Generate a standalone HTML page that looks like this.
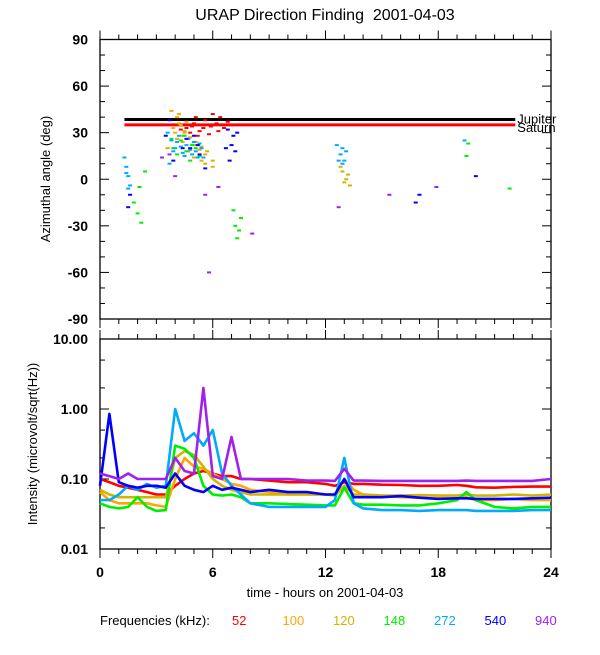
<!DOCTYPE html>
<html><head><meta charset="utf-8">
<style>
html,body{margin:0;padding:0;background:#fff;}
svg text{font-family:"Liberation Sans",sans-serif;}
</style></head>
<body>
<svg id="chart" width="600" height="650" viewBox="0 0 600 650" xmlns="http://www.w3.org/2000/svg">
<text x="325" y="20" font-size="16" text-anchor="middle">URAP Direction Finding &#160;2001-04-03</text>
<g id="topG"></g>
<g id="botG"></g>
<text x="325" y="597" font-size="13" text-anchor="middle">time - hours on 2001-04-03</text>
<text transform="translate(50,179) rotate(-90)" font-size="13" text-anchor="middle">Azimuthal angle (deg)</text>
<text transform="translate(37,444) rotate(-90)" font-size="13" text-anchor="middle">Intensity (microvolt/sqrt(Hz))</text>
<g id="legendG"></g>
</svg>
<script>
const freqs=["52","100","120","148","272","540","940"];
const colors=["#ff0000","#ffa500","#d2b400","#00ee00","#00aaff","#0000ff","#a020f0"];
const xTicks=[0,6,12,18,24];
const azTicks=[90,60,30,0,-30,-60,-90];
const intTicks=[10,1,0.1,0.01];
const intLabels=["10.00","1.00","0.10","0.01"];
const jupiterDeg=38.5, saturnDeg=35, bodyStart=1.3, bodyEnd=22.1;
const pts52=[[4.6,33],[5,36],[5.3,31],[5.6,38],[5.9,34],[6.2,36],[6.4,40],[6.6,33],[5.1,40],[6.0,42],[4.8,30],[5.5,33],[6.8,37],[4.3,32],[5.8,29],[6.3,31],[4.9,34],[5.2,28]];
const pts100=[[3.8,44],[4.1,40],[4.3,35],[4.5,30],[4.7,26],[5.0,22],[5.3,19],[5.6,16],[4.0,30],[7.5,-25],[6.0,8],[4.6,37],[4.2,42],[4.4,24],[5.4,12],[3.9,33]];
const pts120=[[4.2,36],[4.5,31],[4.8,27],[5.1,24],[5.4,21],[5.7,18],[6.0,12],[12.9,5],[13.1,0],[13.3,-4],[13.0,-2],[4.4,28],[3.6,20],[4.7,18],[5.0,14],[5.6,10],[13.2,3],[12.8,8],[4.1,26]];
const pts148=[[1.8,-15],[2.0,-22],[2.2,-28],[2.4,5],[3.9,20],[4.3,25],[4.6,18],[4.9,22],[5.3,15],[7.1,-20],[7.2,-30],[7.3,-38],[7.5,-25],[19.5,15],[19.6,23],[21.8,-6],[3.8,26],[4.1,16],[4.5,28],[4.8,12],[5.1,20],[7.4,-33],[2.1,-5]];
const pts272=[[1.3,14],[1.4,8],[1.5,2],[1.6,-4],[1.4,4],[3.6,30],[3.8,25],[4.0,20],[4.2,28],[4.4,17],[4.6,22],[4.8,19],[5.0,24],[5.2,14],[5.4,20],[12.6,22],[12.8,16],[13.0,12],[12.9,20],[19.4,25],[3.7,10],[3.9,18],[4.1,24],[4.3,21],[4.5,15],[4.7,26],[4.9,16],[5.1,18],[5.3,23],[5.5,14],[12.7,12],[12.9,10],[13.1,18],[1.5,-6]];
const pts540=[[1.6,-10],[3.5,28],[3.9,12],[4.4,20],[5.0,28],[5.3,16],[6.8,32],[7.0,22],[7.2,18],[7.1,28],[6.9,12],[17.0,-10],[20.0,2],[16.8,-15],[5.6,7],[3.7,38],[4.6,26],[4.8,20],[5.2,22],[7.3,30],[6.7,20],[1.5,-18]];
const pts940=[[5.8,-60],[4.0,2],[8.1,-35],[15.4,-10],[6.3,-5],[3.3,14],[12.7,-18],[17.9,-5],[3.7,16],[5.6,-10]];
const azPoints=[pts52,pts100,pts120,pts148,pts272,pts540,pts940];
const tS=[0,0.5,1,1.5,2,2.5,3,3.5,4,4.5,5,5.5,6,6.5,7,7.5,8,9,10,11,12,12.5,13,13.5,14,15,16,17,18,19,19.5,20,21,22,23,24];
const v52 =[0.10,0.09,0.08,0.075,0.07,0.065,0.06,0.06,0.08,0.1,0.12,0.13,0.12,0.11,0.11,0.1,0.1,0.095,0.09,0.09,0.085,0.08,0.09,0.085,0.085,0.083,0.082,0.08,0.08,0.082,0.08,0.076,0.075,0.077,0.078,0.078];
const v100=[0.065,0.05,0.045,0.045,0.045,0.045,0.042,0.04,0.1,0.2,0.15,0.14,0.12,0.1,0.085,0.08,0.07,0.065,0.06,0.06,0.06,0.06,0.1,0.07,0.06,0.058,0.055,0.054,0.053,0.053,0.055,0.05,0.05,0.052,0.05,0.05];
const v120=[0.07,0.06,0.055,0.055,0.055,0.055,0.055,0.055,0.2,0.25,0.22,0.15,0.1,0.08,0.07,0.065,0.06,0.06,0.06,0.06,0.06,0.058,0.08,0.06,0.06,0.058,0.058,0.059,0.058,0.058,0.06,0.058,0.058,0.06,0.058,0.06];
const v148=[0.045,0.04,0.038,0.04,0.055,0.04,0.035,0.036,0.3,0.27,0.2,0.08,0.06,0.058,0.06,0.055,0.045,0.045,0.044,0.043,0.042,0.042,0.075,0.045,0.043,0.043,0.042,0.042,0.045,0.05,0.065,0.05,0.04,0.038,0.04,0.04];
const v272=[0.05,0.05,0.06,0.08,0.07,0.085,0.075,0.08,1.0,0.35,0.45,0.3,0.5,0.12,0.08,0.06,0.045,0.04,0.04,0.04,0.04,0.05,0.2,0.045,0.038,0.036,0.036,0.035,0.036,0.036,0.036,0.035,0.035,0.035,0.036,0.036];
const v540=[0.08,0.85,0.09,0.08,0.075,0.08,0.08,0.075,0.12,0.08,0.07,0.065,0.08,0.07,0.075,0.07,0.065,0.07,0.065,0.065,0.06,0.06,0.1,0.055,0.055,0.055,0.057,0.054,0.052,0.053,0.053,0.052,0.052,0.052,0.053,0.054];
const v940=[0.12,0.11,0.1,0.12,0.1,0.1,0.1,0.1,0.2,0.13,0.12,2.0,0.11,0.1,0.4,0.1,0.1,0.1,0.1,0.095,0.095,0.094,0.14,0.095,0.095,0.094,0.094,0.094,0.094,0.094,0.095,0.094,0.094,0.094,0.094,0.1];
const intSeries=[v52,v100,v120,v148,v272,v540,v940];

const NS="http://www.w3.org/2000/svg";
const X0=100,X1=551;
const T0=39.5,T1=319,B0=339,B1=549;
const xs=h=>X0+(X1-X0)*h/24;
const ya=d=>(T0+T1)/2-(d/180)*(T1-T0);
const yi=v=>B1-(Math.log10(v)+2)/3*(B1-B0);
function mk(tag,attrs,parent){const e=document.createElementNS(NS,tag);for(const k in attrs)e.setAttribute(k,attrs[k]);parent.appendChild(e);return e;}
const topG=document.getElementById('topG'),botG=document.getElementById('botG'),legG=document.getElementById('legendG');

function frame(g,y0,y1){
  const r=mk('rect',{x:X0,y:y0,width:X1-X0,height:y1-y0,fill:'none',stroke:'#000','stroke-width':1.3},g);
  
  
  for(let h=0;h<=24;h++){
    const L=h%6==0?9:5;
    mk('line',{x1:xs(h),x2:xs(h),y1:y0,y2:y0-L,stroke:'#000'},g);
    mk('line',{x1:xs(h),x2:xs(h),y1:y1,y2:y1+L,stroke:'#000'},g);
  }
}
frame(topG,T0,T1);frame(botG,B0,B1);
for(let d=-90;d<=90;d+=10){const L=d%30==0?9:5;
  mk('line',{x1:X0,x2:X0+L,y1:ya(d),y2:ya(d),stroke:'#000'},topG);
  mk('line',{x1:X1,x2:X1-L,y1:ya(d),y2:ya(d),stroke:'#000'},topG);}
azTicks.forEach(d=>{const t=mk('text',{x:X0-12,y:ya(d)+5,'font-size':14,'font-weight':'bold','text-anchor':'end'},topG);t.textContent=d;
  
  });
for(let e=-2;e<=0;e++){[1,2,5].forEach(m=>{const v=m*Math.pow(10,e);const L=m==1?9:5;
  mk('line',{x1:X0,x2:X0+L,y1:yi(v),y2:yi(v),stroke:'#000'},botG);
  mk('line',{x1:X1,x2:X1-L,y1:yi(v),y2:yi(v),stroke:'#000'},botG);});}
intTicks.forEach((v,i)=>{const t=mk('text',{x:X0-12,y:yi(v)+5,'font-size':14,'font-weight':'bold','text-anchor':'end'},botG);t.textContent=intLabels[i];
  
  });
xTicks.forEach(h=>{const t=mk('text',{x:xs(h),y:577,'font-size':14,'font-weight':'bold','text-anchor':'middle'},botG);t.textContent=h;
  
  });
const jl=mk('line',{x1:xs(bodyStart),x2:xs(bodyEnd),y1:ya(jupiterDeg),y2:ya(jupiterDeg),stroke:'#000','stroke-width':3},topG);


const sl=mk('line',{x1:xs(bodyStart),x2:xs(bodyEnd),y1:ya(saturnDeg),y2:ya(saturnDeg),stroke:'#f00','stroke-width':3},topG);


const jt=mk('text',{x:xs(bodyEnd)+2,y:ya(jupiterDeg)+4,'font-size':13},topG);jt.textContent='Jupiter';


const st=mk('text',{x:xs(bodyEnd)+2,y:ya(saturnDeg)+7,'font-size':13},topG);st.textContent='Saturn';


azPoints.forEach((arr,i)=>arr.forEach(p=>{
  const r=mk('rect',{x:xs(p[0])-2,y:ya(p[1])-1,width:4,height:2,fill:colors[i]},topG);
  
  
}));
intSeries.forEach((vals,i)=>{
  const d=vals.map((v,k)=>(k?'L':'M')+xs(tS[k]).toFixed(1)+' '+yi(v).toFixed(1)).join(' ');
  const p=mk('path',{d:d,fill:'none',stroke:colors[i],'stroke-width':2.6,'stroke-linejoin':'round'},botG);
  
  
});
const lt=mk('text',{x:100,y:625,'font-size':13},legG);lt.textContent='Frequencies (kHz):';


freqs.forEach((f,i)=>{const t=mk('text',{x:232+i*50.5,y:625,'font-size':13,fill:colors[i]},legG);t.textContent=f;
  
  });
</script>
</body></html>
